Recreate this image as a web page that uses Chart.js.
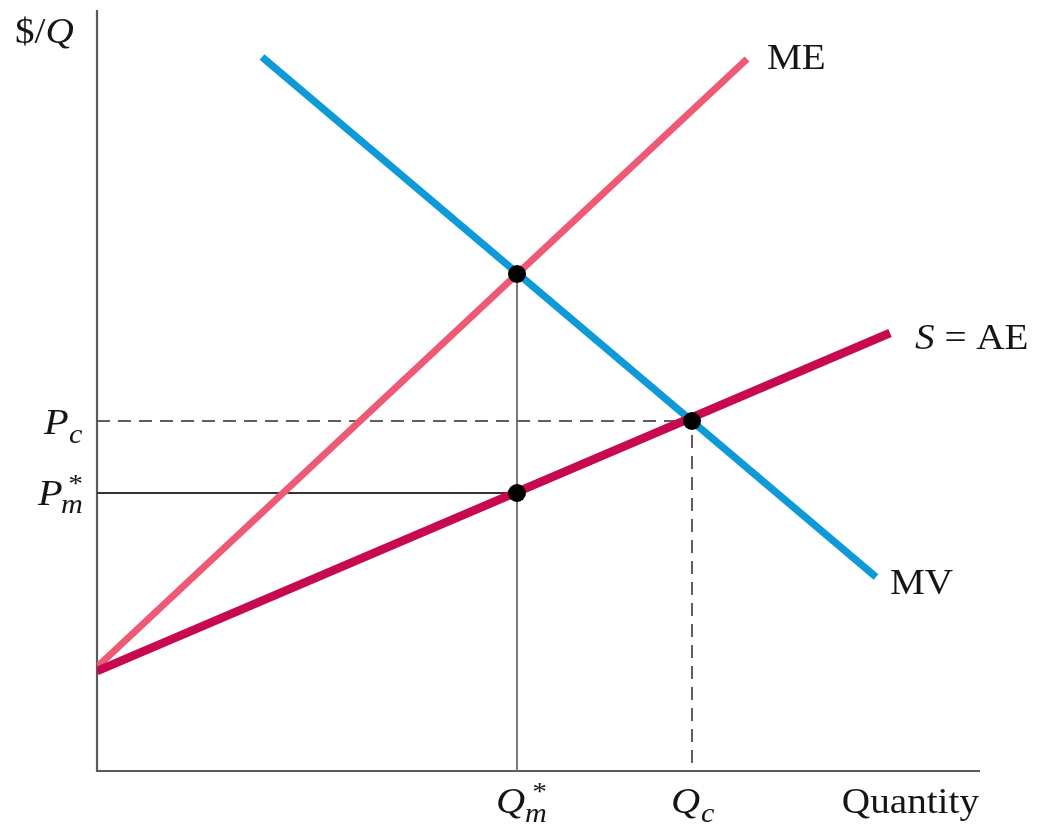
<!DOCTYPE html>
<html>
<head>
<meta charset="utf-8">
<script src="https://cdn.jsdelivr.net/npm/chart.js@4/dist/chart.umd.min.js"></script>
<style>
html,body{margin:0;padding:0;background:#fff;}
#wrap{width:1040px;height:825px;position:relative;}
</style>
</head>
<body>
<div id="wrap"><canvas id="c" width="1040" height="825"></canvas></div>
<script>
// Axis extents (arbitrary units)
const xMax = 88.3;
const yMax = 76.1;

// Curves: [x, y] end points
const meLine = [[0, 10.4], [65.0, 71.2]];      // ME
const saeLine = [[0, 10.0], [79.3, 43.8]];     // S = AE
const mvLine = [[16.5, 71.4], [77.9, 19.4]];   // MV

// Key values
const qM = 42.0;      // Q*m
const qC = 59.5;      // Qc
const pC = 35.0;      // Pc
const pM = 27.8;      // P*m
const pTop = 49.7;    // ME = MV at Q*m

// Curve labels
const curveLabels = [
  {text: 'ME', x: 67.0, y: 71.4},
  {text: 'S = AE', x: 81.8, y: 43.4, italicFirst: true},
  {text: 'MV', x: 79.3, y: 18.9}
];

const toPts = arr => arr.map(p => ({x: p[0], y: p[1]}));
const SERIF = '"Liberation Serif", "DejaVu Serif", serif';
const SX = 1.12;

function txt(ctx, s, x, y, size, italic, align) {
  ctx.save();
  ctx.font = (italic ? 'italic ' : '') + size + 'px ' + SERIF;
  ctx.textAlign = align || 'left';
  ctx.translate(x, y);
  ctx.scale(SX, 1);
  ctx.fillText(s, 0, 0);
  const w = ctx.measureText(s).width * SX;
  ctx.restore();
  return w;
}

const annotate = {
  id: 'annotate',
  beforeDatasetsDraw(chart) {
    const ctx = chart.ctx, xs = chart.scales.x, ys = chart.scales.y;
    ctx.save();
    ctx.strokeStyle = '#5a5a5a';
    ctx.lineWidth = 2.2;
    ctx.beginPath();
    ctx.moveTo(xs.getPixelForValue(0), ys.getPixelForValue(yMax));
    ctx.lineTo(xs.getPixelForValue(0), ys.getPixelForValue(0));
    ctx.lineTo(xs.getPixelForValue(xMax), ys.getPixelForValue(0));
    ctx.stroke();
    ctx.restore();
  },
  afterDatasetsDraw(chart) {
    const ctx = chart.ctx, xs = chart.scales.x, ys = chart.scales.y;
    ctx.save();
    ctx.fillStyle = '#151515';
    ctx.textBaseline = 'alphabetic';

    // $/Q
    let w = txt(ctx, '$/', 15, 43, 35, false);
    txt(ctx, 'Q', 15 + w, 43, 35, true);

    // curve labels
    curveLabels.forEach(l => {
      const px = xs.getPixelForValue(l.x), py = ys.getPixelForValue(l.y) + 12;
      if (l.italicFirst) {
        const w1 = txt(ctx, 'S', px, py, 35, true);
        txt(ctx, ' = AE', px + w1, py, 35, false);
      } else {
        txt(ctx, l.text, px, py, 35, false);
      }
    });

    // y-axis labels
    const yPc = ys.getPixelForValue(pC);
    txt(ctx, 'P', 44, yPc + 13, 36, true);
    txt(ctx, 'c', 69, yPc + 22, 27, true);

    const yPm = ys.getPixelForValue(pM);
    txt(ctx, 'P', 38, yPm + 12, 36, true);
    txt(ctx, '*', 67, yPm - 1, 26, true);
    txt(ctx, 'm', 61, yPm + 20, 27, true);

    // x-axis labels
    const xQm = xs.getPixelForValue(qM);
    txt(ctx, 'Q', xQm - 21, 813, 36, true);
    txt(ctx, '*', xQm + 14, 800, 26, true);
    txt(ctx, 'm', xQm + 8, 822, 27, true);

    const xQc = xs.getPixelForValue(qC);
    txt(ctx, 'Q', xQc - 21, 813, 36, true);
    txt(ctx, 'c', xQc + 9, 822, 27, true);

    txt(ctx, 'Quantity', 979, 813, 35, false, 'right');
    ctx.restore();
  }
};

new Chart(document.getElementById('c'), {
  type: 'scatter',
  data: {
    datasets: [
      {data: [{x: qM, y: pTop}, {x: qC, y: pC}, {x: qM, y: pM}], showLine: false, pointRadius: 9, pointBackgroundColor: '#000', pointBorderColor: '#000', pointBorderWidth: 0},
      {data: toPts(saeLine), showLine: true, borderColor: '#c70a4f', borderWidth: 8.5, pointRadius: 0, borderCapStyle: 'butt'},
      {data: toPts(mvLine), showLine: true, borderColor: '#0e9ad8', borderWidth: 7.5, pointRadius: 0, borderCapStyle: 'butt'},
      {data: toPts(meLine), showLine: true, borderColor: '#ee5a76', borderWidth: 7, pointRadius: 0, borderCapStyle: 'butt'},
      {data: [{x: 0, y: pC}, {x: qC, y: pC}, {x: qC, y: 0}], showLine: true, borderColor: '#5f5f5f', borderWidth: 2, borderDash: [13, 8], pointRadius: 0, tension: 0},
      {data: [{x: 0, y: pM}, {x: qM, y: pM}], showLine: true, borderColor: '#333333', borderWidth: 1.8, pointRadius: 0},
      {data: [{x: qM, y: pTop}, {x: qM, y: 0}], showLine: true, borderColor: '#7a7a7a', borderWidth: 2, pointRadius: 0}
    ]
  },
  options: {
    responsive: false,
    animation: false,
    layout: {padding: {left: 97, right: 60, top: 10, bottom: 54}},
    plugins: {legend: {display: false}, tooltip: {enabled: false}},
    scales: {
      x: {type: 'linear', min: 0, max: xMax, display: false},
      y: {type: 'linear', min: 0, max: yMax, display: false}
    }
  },
  plugins: [annotate]
});
</script>
</body>
</html>
